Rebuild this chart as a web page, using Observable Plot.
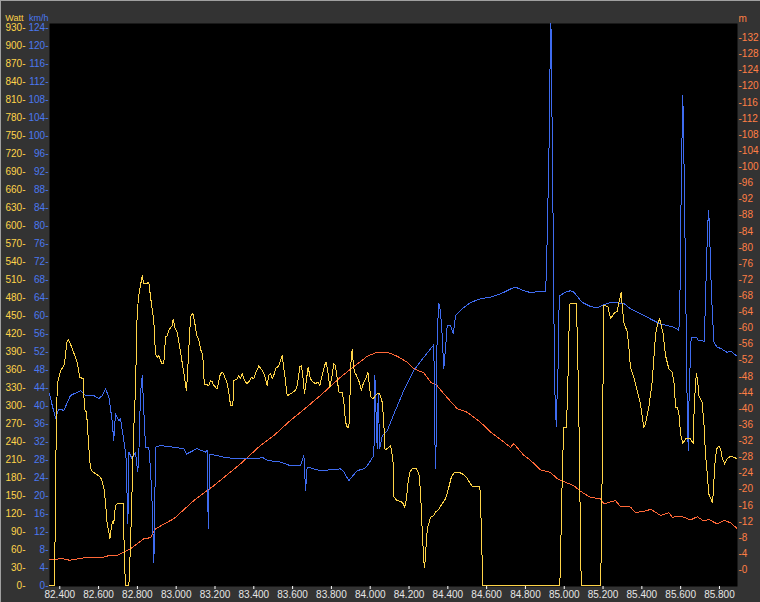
<!DOCTYPE html>
<html>
<head>
<meta charset="utf-8">
<script src="https://cdn.jsdelivr.net/npm/d3@7"></script>
<script src="https://cdn.jsdelivr.net/npm/@observablehq/plot@0.6"></script>
<style>
  html, body { margin: 0; padding: 0; background: #333333; }
  #chart { position: relative; width: 760px; height: 602px; overflow: hidden; }
  #chart svg { display: block; }
  #chart .bt { position: absolute; left: 0; top: 0; width: 760px; height: 1px; background: #a0a0a0; }
  #chart .bl { position: absolute; left: 0; top: 0; width: 1px; height: 602px; background: #a0a0a0; }
</style>
</head>
<body>
<div id="chart"></div>
<script>
// ---- tick labels ----
const xTicks = [82.4, 82.6, 82.8, 83.0, 83.2, 83.4, 83.6, 83.8, 84.0, 84.2, 84.4, 84.6, 84.8, 85.0, 85.2, 85.4, 85.6, 85.8];
const wattTicks = [0, 30, 60, 90, 120, 150, 180, 210, 240, 270, 300, 330, 360, 390, 420, 450, 480, 510, 540, 570, 600, 630, 660, 690, 720, 750, 780, 810, 840, 870, 900, 930];
const kmhTicks = [0, 4, 8, 12, 16, 20, 24, 28, 32, 36, 40, 44, 48, 52, 56, 60, 64, 68, 72, 76, 80, 84, 88, 92, 96, 100, 104, 108, 112, 116, 120, 124];
const mTicks = [0, 4, 8, 12, 16, 20, 24, 28, 32, 36, 40, 44, 48, 52, 56, 60, 64, 68, 72, 76, 80, 84, 88, 92, 96, 100, 104, 108, 112, 116, 120, 124, 128, 132];

// ---- series: [distance (km), value] ----
// Power (Watt)
const power = [
[82.348,0],[82.369,0],[82.373,0],[82.383,300],[82.390,340],[82.404,359],[82.418,365],[82.424,370],[82.438,409],[82.446,410],
[82.464,396],[82.490,372],[82.503,348],[82.521,345],[82.527,295],[82.538,289],[82.549,234],[82.558,196],[82.567,191],[82.584,187],
[82.610,181],[82.619,173],[82.627,164],[82.636,137],[82.644,104],[82.653,89],[82.658,78],[82.667,101],[82.675,109],[82.678,103],
[82.687,134],[82.696,137],[82.727,137],[82.734,34],[82.739,0],[82.756,0],[82.764,64],[82.773,164],[82.781,259],[82.790,326],
[82.799,456],[82.807,484],[82.816,501],[82.825,517],[82.833,504],[82.847,504],[82.859,506],[82.868,481],[82.876,462],[82.885,440],
[82.893,387],[82.902,381],[82.910,384],[82.919,376],[82.928,370],[82.936,370],[82.945,415],[82.954,417],[82.962,426],[82.979,434],
[82.985,445],[82.993,431],[83.005,423],[83.022,390],[83.036,362],[83.044,345],[83.052,326],[83.057,345],[83.065,395],[83.074,448],
[83.086,455],[83.094,442],[83.103,423],[83.108,415],[83.116,412],[83.125,395],[83.137,384],[83.142,351],[83.146,335],[83.160,335],
[83.168,334],[83.177,342],[83.186,340],[83.194,334],[83.203,331],[83.211,328],[83.228,354],[83.240,356],[83.254,345],[83.263,337],
[83.271,323],[83.280,301],[83.292,301],[83.297,342],[83.314,345],[83.323,351],[83.331,345],[83.340,354],[83.352,342],[83.366,337],
[83.378,342],[83.388,348],[83.400,345],[83.409,354],[83.426,367],[83.443,359],[83.455,351],[83.469,334],[83.477,351],[83.486,354],
[83.495,345],[83.503,351],[83.512,362],[83.529,367],[83.546,384],[83.555,362],[83.563,342],[83.572,317],[83.589,320],[83.615,326],
[83.624,334],[83.637,365],[83.646,367],[83.655,342],[83.661,320],[83.672,345],[83.680,365],[83.692,345],[83.704,340],[83.718,337],
[83.730,340],[83.740,334],[83.753,351],[83.764,367],[83.773,373],[83.784,351],[83.792,331],[83.804,351],[83.812,370],[83.821,367],
[83.830,345],[83.838,323],[83.856,323],[83.864,306],[83.873,273],[83.882,264],[83.890,264],[83.895,301],[83.898,362],[83.907,395],
[83.912,373],[83.919,356],[83.929,351],[83.941,342],[83.955,326],[83.964,337],[83.976,345],[83.988,356],[83.993,342],[84.002,315],
[84.015,312],[84.027,317],[84.036,320],[84.049,320],[84.062,306],[84.070,273],[84.075,228],[84.084,228],[84.096,231],[84.105,234],
[84.110,226],[84.119,203],[84.122,148],[84.139,142],[84.156,141],[84.170,137],[84.178,131],[84.187,145],[84.194,170],[84.204,189],
[84.216,195],[84.239,195],[84.251,187],[84.259,159],[84.268,92],[84.276,42],[84.280,31],[84.285,48],[84.290,81],[84.297,98],
[84.311,114],[84.328,117],[84.337,123],[84.354,128],[84.371,137],[84.388,145],[84.405,164],[84.418,181],[84.431,188],[84.457,189],
[84.474,187],[84.496,181],[84.517,170],[84.526,166],[84.565,166],[84.569,137],[84.574,81],[84.580,0],[84.977,0],[84.981,42],
[84.986,131],[84.993,220],[84.998,264],[85.012,264],[85.015,303],[85.021,365],[85.027,465],[85.029,470],[85.063,470],[85.070,376],
[85.075,292],[85.080,176],[85.084,64],[85.088,0],[85.187,0],[85.192,75],[85.197,248],[85.204,467],[85.213,467],[85.225,465],
[85.239,445],[85.256,454],[85.273,458],[85.278,467],[85.287,479],[85.294,490],[85.299,465],[85.307,440],[85.316,431],[85.325,423],
[85.333,398],[85.341,365],[85.358,348],[85.376,326],[85.393,303],[85.410,264],[85.419,270],[85.436,298],[85.454,342],[85.462,381],
[85.471,420],[85.482,437],[85.491,445],[85.496,440],[85.510,420],[85.522,384],[85.539,362],[85.556,356],[85.565,342],[85.574,298],
[85.582,298],[85.591,287],[85.600,253],[85.611,237],[85.625,245],[85.651,245],[85.665,237],[85.668,281],[85.677,342],[85.682,354],
[85.689,337],[85.694,317],[85.711,306],[85.720,270],[85.728,220],[85.737,187],[85.745,153],[85.763,139],[85.768,153],[85.775,198],
[85.785,228],[85.797,233],[85.806,228],[85.814,214],[85.827,203],[85.840,212],[85.857,216],[85.892,212]
];

// Speed (km/h)
const speed = [
[82.347,42.8],[82.361,40.1],[82.378,37.3],[82.395,39.3],[82.421,39.0],[82.455,42.3],[82.507,43.4],[82.524,42.7],[82.532,42.3],[82.575,42.3],
[82.601,41.6],[82.619,42.3],[82.636,43.8],[82.653,41.9],[82.670,36.7],[82.678,32.3],[82.687,38.2],[82.704,36.7],[82.713,37.1],[82.730,32.3],
[82.741,29.0],[82.751,13.8],[82.756,29.7],[82.773,28.2],[82.790,29.7],[82.802,25.3],[82.807,28.6],[82.816,42.7],[82.825,46.7],[82.833,39.0],
[82.842,30.8],[82.859,30.8],[82.868,25.6],[82.876,18.2],[82.885,5.2],[82.890,18.2],[82.893,30.8],[82.919,31.2],[82.988,30.8],[83.039,30.5],
[83.053,29.3],[83.108,30.5],[83.151,29.7],[83.160,30.1],[83.165,12.7],[83.173,29.3],[83.245,28.6],[83.314,28.2],[83.418,28.2],[83.443,28.6],
[83.469,27.9],[83.538,27.5],[83.589,26.7],[83.641,26.7],[83.658,29.0],[83.667,21.2],[83.675,26.4],[83.744,25.6],[83.847,26.0],[83.864,25.3],
[83.890,23.4],[83.933,25.6],[83.967,26.0],[83.985,26.7],[84.019,29.0],[84.024,46.7],[84.036,30.5],[84.041,42.7],[84.049,30.5],[84.062,33.4],
[84.088,34.5],[84.122,38.2],[84.173,43.4],[84.225,47.9],[84.276,50.8],[84.328,53.6],[84.333,32.7],[84.338,26.0],[84.345,56.4],[84.354,62.7],
[84.362,61.2],[84.371,55.6],[84.379,48.2],[84.388,52.7],[84.397,57.9],[84.414,57.9],[84.428,56.0],[84.440,60.1],[84.474,61.6],[84.517,63.0],
[84.569,63.8],[84.620,64.2],[84.672,64.9],[84.723,66.0],[84.749,66.4],[84.792,65.6],[84.835,65.1],[84.861,65.5],[84.904,65.5],[84.909,71.2],
[84.915,83.4],[84.921,95.3],[84.924,107.1],[84.928,119.0],[84.931,126.0],[84.935,116.0],[84.938,97.9],[84.943,79.7],[84.946,63.4],[84.951,44.1],
[84.959,35.3],[84.960,39.0],[84.967,45.6],[84.972,60.5],[84.977,64.5],[85.007,65.3],[85.032,65.6],[85.049,65.3],[85.093,63.0],[85.135,62.1],
[85.170,61.8],[85.204,62.5],[85.239,63.0],[85.307,62.8],[85.341,61.6],[85.393,60.5],[85.428,59.7],[85.496,58.2],[85.565,57.5],[85.591,56.8],
[85.596,63.4],[85.600,76.4],[85.603,89.4],[85.608,102.3],[85.611,109.0],[85.615,101.2],[85.620,85.3],[85.625,69.4],[85.634,39.0],[85.639,30.1],
[85.641,38.2],[85.650,50.8],[85.654,55.1],[85.686,55.1],[85.690,54.5],[85.722,54.4],[85.734,72.7],[85.739,79.7],[85.744,83.4],[85.749,79.7],
[85.753,72.3],[85.759,64.9],[85.771,54.2],[85.789,53.0],[85.806,52.8],[85.840,51.9],[85.857,52.2],[85.892,51.0]
];

// Elevation (m)
const elevation = [
[82.347,2.5],[82.410,2.8],[82.450,2.4],[82.524,3.0],[82.610,3.0],[82.650,3.5],[82.696,3.6],[82.764,5.2],[82.833,7.7],[82.868,8.0],
[82.893,10.2],[82.988,12.7],[83.091,17.2],[83.194,20.9],[83.331,26.3],[83.435,30.9],[83.503,33.3],[83.589,37.1],[83.641,39.1],[83.744,43.3],
[83.847,47.8],[83.933,51.1],[83.985,53.0],[84.036,54.0],[84.088,54.0],[84.139,53.0],[84.191,51.5],[84.225,49.9],[84.276,48.9],[84.311,46.6],
[84.345,45.7],[84.379,43.7],[84.448,40.0],[84.500,39.1],[84.569,36.6],[84.620,34.2],[84.689,31.7],[84.723,30.4],[84.740,31.3],[84.792,28.4],
[84.826,27.2],[84.878,24.8],[84.929,24.2],[84.964,22.6],[84.998,21.9],[85.049,20.9],[85.084,19.5],[85.135,18.0],[85.187,17.6],[85.204,16.4],
[85.264,17.2],[85.290,15.7],[85.341,15.6],[85.367,14.2],[85.428,14.7],[85.445,15.1],[85.496,13.5],[85.539,14.2],[85.556,13.1],[85.608,13.2],
[85.651,12.4],[85.686,13.2],[85.720,12.1],[85.745,12.5],[85.789,11.4],[85.823,12.3],[85.857,11.7],[85.892,10.2]
];

// shared vertical scale is in Watt units; other series are mapped onto it
const kmhToW = v => v * 7.5;
const mToW = v => 26.5 + 6.722 * v;
const wToKmh = w => Math.round(w / 7.5);
const wToM = w => Math.round((w - 26.5) / 6.722);

const YELLOW = "#ffd34a", BLUE = "#4a78f0", ORANGE = "#ff7f45";
const LINE_Y = "#ffd448", LINE_B = "#3f6cf0", LINE_O = "#ff6838";

const chart = Plot.plot({
  width: 760,
  height: 602,
  marginLeft: 49,
  marginRight: 23,
  marginTop: 23,
  marginBottom: 16,
  style: {background: "#333333", fontFamily: "'Liberation Sans', Arial, sans-serif", fontSize: "10px", overflow: "visible"},
  x: {domain: [82.347, 85.893], axis: null},
  y: {domain: [-1.2, 937.7], axis: null},
  marks: [
    Plot.frame({fill: "#000000", stroke: null}),
    Plot.line(elevation, {x: d => d[0], y: d => mToW(d[1]), stroke: LINE_O, strokeWidth: 1, clip: true, shapeRendering: "crispEdges"}),
    Plot.line(speed, {x: d => d[0], y: d => kmhToW(d[1]), stroke: LINE_B, strokeWidth: 1, clip: true, shapeRendering: "crispEdges"}),
    Plot.line(power, {x: d => d[0], y: d => d[1], stroke: LINE_Y, strokeWidth: 1, clip: true, shapeRendering: "crispEdges"}),
    Plot.axisY(wattTicks, {anchor: "left", tickSize: 0, tickPadding: 24, fill: YELLOW, label: null, tickFormat: d => d + "-"}),
    Plot.axisY(kmhTicks.map(kmhToW), {anchor: "left", tickSize: 0, tickPadding: 1, fill: BLUE, label: null, tickFormat: d => wToKmh(d) + "-"}),
    Plot.axisY(mTicks.map(mToW), {anchor: "right", tickSize: 0, tickPadding: 1, fill: ORANGE, label: null, tickFormat: d => "-" + wToM(d)}),
    Plot.axisX(xTicks, {anchor: "bottom", tickSize: 3, tickPadding: 1, stroke: "#ffffff", fill: "#e6e6e6", label: null, tickFormat: d => d.toFixed(3)}),
    Plot.text(["Watt"], {frameAnchor: "top-left", dx: -26, dy: -9, textAnchor: "end", fill: YELLOW, fontSize: 9}),
    Plot.text(["km/h"], {frameAnchor: "top-left", dx: -1, dy: -9, textAnchor: "end", fill: BLUE, fontSize: 9}),
    Plot.text(["m"], {frameAnchor: "top-right", dx: 1, dy: -9, textAnchor: "start", fill: ORANGE})
  ]
});

const host = document.getElementById("chart");
host.appendChild(chart);
const bt = document.createElement("div"); bt.className = "bt"; host.appendChild(bt);
const bl = document.createElement("div"); bl.className = "bl"; host.appendChild(bl);
</script>
</body>
</html>
